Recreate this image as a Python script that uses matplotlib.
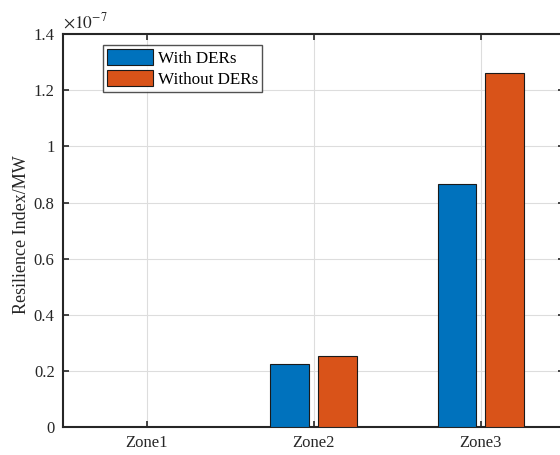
import matplotlib.pyplot as plt
import numpy as np

# Data
zones = ["Zone1", "Zone2", "Zone3"]
with_ders = [0.0, 0.224e-7, 0.866e-7]
without_ders = [0.0, 0.252e-7, 1.262e-7]

plt.rcParams['font.family'] = ['Liberation Serif', 'DejaVu Serif']
plt.rcParams['mathtext.fontset'] = 'stix'

fig = plt.figure(figsize=(5.6, 4.55), dpi=100)
ax = fig.add_axes([0.1125, 0.0615, 0.895, 0.8635])

x = np.arange(1, len(zones) + 1)
w = 0.23
ax.bar(x - 0.143, with_ders, w, color='#0072BD', edgecolor='#1a1a1a', linewidth=0.8,
       label='With DERs', zorder=3)
ax.bar(x + 0.143, without_ders, w, color='#D95319', edgecolor='#1a1a1a', linewidth=0.8,
       label='Without DERs', zorder=3)

ax.set_xlim(0.5, 3.5)
ax.set_ylim(0, 1.4e-7)
ax.set_xticks(x)
ax.set_xticklabels(zones)
ax.set_yticks(np.arange(0, 1.41e-7, 0.2e-7))
ax.set_yticklabels(['0', '0.2', '0.4', '0.6', '0.8', '1', '1.2', '1.4'])
ax.text(0.0, 1.005, r'$\times10^{-7}$', transform=ax.transAxes, fontsize=12.5,
        color='#262626', va='bottom', ha='left')

ax.grid(True, color='#dddddd', linewidth=0.8, zorder=0)
ax.tick_params(direction='in', top=True, right=True, length=4, width=1.2,
               labelsize=12, colors='#262626', pad=6)
for s in ax.spines.values():
    s.set_linewidth(1.5)
    s.set_color('#262626')

ax.set_ylabel('Resilience Index/MW', fontsize=13, color='#262626')
ax.yaxis.set_label_coords(-0.066, 0.49)

leg = ax.legend(loc='upper left', bbox_to_anchor=(0.08, 0.972), fontsize=12.3,
                frameon=True, fancybox=False, edgecolor='#262626',
                handlelength=2.65, handleheight=1.0, borderpad=0.25,
                labelspacing=0.2, handletextpad=0.3, borderaxespad=0)
leg.get_frame().set_linewidth(1.0)

fig.savefig('out.png', dpi=100)
